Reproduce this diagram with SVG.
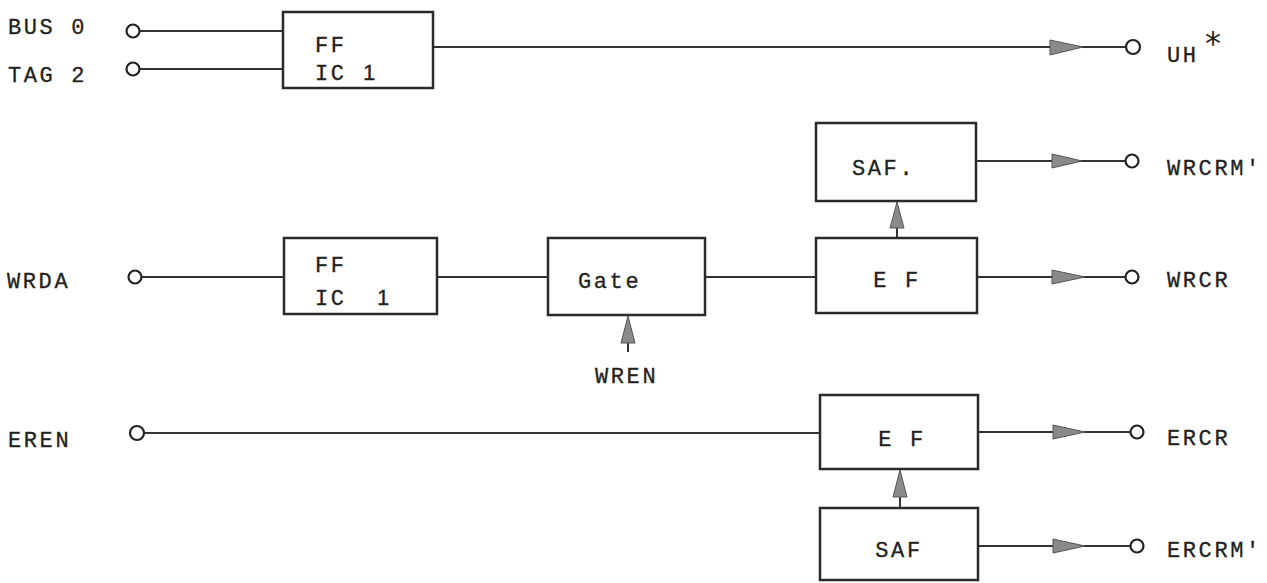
<svg xmlns="http://www.w3.org/2000/svg" width="1267" height="583" viewBox="0 0 1267 583">
<style>
.box{fill:#fff;stroke:#2a2a2a;stroke-width:2.5}
.ln{fill:none;stroke:#333;stroke-width:2}
.pin{fill:#fff;stroke:#222;stroke-width:2.2}
.ah{fill:#8a8a8a;stroke:#555;stroke-width:1}
.t{font-family:"Liberation Mono",monospace;font-size:22px;letter-spacing:2.6px;fill:#222;stroke:#222;stroke-width:0.3}
.s{font-family:"Liberation Sans",sans-serif;letter-spacing:0}
</style>
<rect width="1267" height="583" fill="#fff"/>
<g id="connectors">
  <line class="ln" x1="140" y1="31" x2="283" y2="31"/>
  <line class="ln" x1="140" y1="69" x2="283" y2="69"/>
  <line class="ln" x1="433" y1="47" x2="1126" y2="47"/>
  <polygon class="ah" points="1050,40 1083,47 1050,55"/>
  <line class="ln" x1="976" y1="161" x2="1126" y2="161"/>
  <polygon class="ah" points="1052,154 1082,161 1052,168"/>
  <line class="ln" x1="142" y1="277" x2="284" y2="277"/>
  <line class="ln" x1="437" y1="277" x2="548" y2="277"/>
  <line class="ln" x1="705" y1="277" x2="816" y2="277"/>
  <line class="ln" x1="977" y1="277" x2="1126" y2="277"/>
  <polygon class="ah" points="1052,270 1085,277 1052,284"/>
  <line class="ln" x1="897" y1="238" x2="897" y2="228"/>
  <polygon class="ah" points="890,228 897,202 904,228"/>
  <line class="ln" x1="628" y1="352" x2="628" y2="343"/>
  <polygon class="ah" points="621,343 628,316 635,343"/>
  <line class="ln" x1="144" y1="433" x2="820" y2="433"/>
  <line class="ln" x1="978" y1="432" x2="1131" y2="432"/>
  <polygon class="ah" points="1053,425 1085,432 1053,439"/>
  <line class="ln" x1="900" y1="508" x2="900" y2="497"/>
  <polygon class="ah" points="893,497 900,470 907,497"/>
  <line class="ln" x1="978" y1="546" x2="1131" y2="546"/>
  <polygon class="ah" points="1053,539 1085,546 1053,553"/>
</g>
<g id="in-bus0"><circle class="pin" cx="133" cy="31" r="6.5"/><text class="t" x="8" y="34">BUS 0</text></g>
<g id="in-tag2"><circle class="pin" cx="133" cy="69" r="6.5"/><text class="t" x="8" y="82">TAG 2</text></g>
<g id="ff1"><rect class="box" x="283" y="12" width="150" height="76"/><text class="t" x="315" y="52">FF</text><text class="t" x="315" y="80">IC <tspan class="s" x="363">1</tspan></text></g>
<g id="out-uh"><circle class="pin" cx="1133" cy="47" r="7"/><text class="t" x="1167" y="62">UH</text><text x="1205" y="54" font-family="DejaVu Sans,sans-serif" font-size="32" fill="#222">*</text></g>
<g id="saf1"><rect class="box" x="816" y="123" width="160" height="78"/><text class="t" x="852" y="175">SAF.</text></g>
<g id="out-wrcrm"><circle class="pin" cx="1132" cy="161" r="6.5"/><text class="t" x="1167" y="175">WRCRM'</text></g>
<g id="in-wrda"><circle class="pin" cx="135" cy="277" r="6.5"/><text class="t" x="7" y="288">WRDA</text></g>
<g id="ff2"><rect class="box" x="284" y="238" width="153" height="76"/><text class="t" x="315" y="272">FF</text><text class="t" x="315" y="305">IC <tspan class="s" x="377">1</tspan></text></g>
<g id="gate"><rect class="box" x="548" y="238" width="157" height="77"/><text class="t" x="578" y="288">Gate</text></g>
<g id="wren"><text class="t" x="595" y="383">WREN</text></g>
<g id="ef1"><rect class="box" x="816" y="238" width="161" height="75"/><text class="t" x="897" y="287" text-anchor="middle">E F</text></g>
<g id="out-wrcr"><circle class="pin" cx="1132" cy="277" r="6.5"/><text class="t" x="1167" y="287">WRCR</text></g>
<g id="in-eren"><circle class="pin" cx="137" cy="433" r="7"/><text class="t" x="8" y="447">EREN</text></g>
<g id="ef2"><rect class="box" x="820" y="395" width="158" height="74"/><text class="t" x="902" y="446" text-anchor="middle">E F</text></g>
<g id="out-ercr"><circle class="pin" cx="1137" cy="432" r="6.5"/><text class="t" x="1167" y="445">ERCR</text></g>
<g id="saf2"><rect class="box" x="820" y="508" width="158" height="72"/><text class="t" x="899" y="557" text-anchor="middle">SAF</text></g>
<g id="out-ercrm"><circle class="pin" cx="1137" cy="546" r="6.5"/><text class="t" x="1167" y="557">ERCRM'</text></g>
</svg>
